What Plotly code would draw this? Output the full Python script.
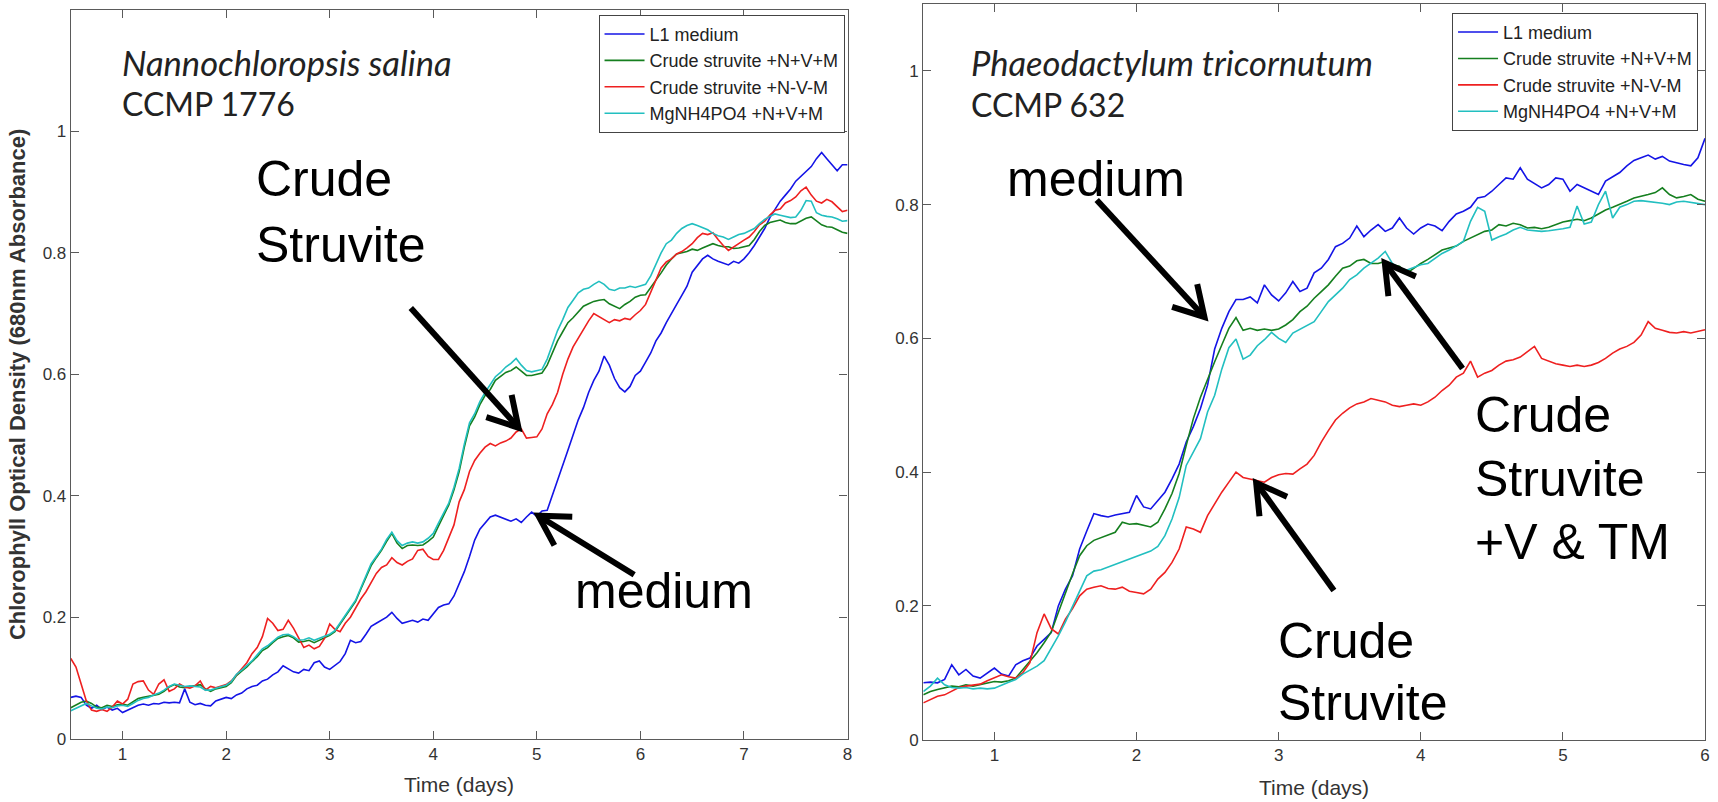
import plotly.graph_objects as go
import math

W, H = 1718, 802

# ---------------- data ----------------
T_LEFT = [round(0.5 + 0.05 * i, 2) for i in range(151)]   # days 0.5 .. 8.0
T_RIGHT = [round(0.5 + 0.05 * i, 2) for i in range(111)]  # days 0.5 .. 6.0

SERIES_NAMES = ["L1 medium", "Crude struvite +N+V+M", "Crude struvite +N-V-M", "MgNH4PO4 +N+V+M"]
SERIES_COLORS = ["#1414e6", "#157f1f", "#ee2020", "#22bfc0"]

NS_L1 = [0.068,0.070,0.068,0.055,0.050,0.055,0.048,0.052,0.047,0.050,
         0.043,0.047,0.052,0.055,0.057,0.055,0.058,0.057,0.060,0.059,
         0.060,0.059,0.082,0.060,0.056,0.058,0.055,0.054,0.062,0.065,
         0.068,0.066,0.072,0.075,0.082,0.086,0.088,0.095,0.098,0.105,
         0.110,0.120,0.115,0.110,0.108,0.114,0.112,0.125,0.128,0.118,
         0.114,0.120,0.127,0.140,0.162,0.158,0.160,0.172,0.185,0.190,
         0.195,0.200,0.208,0.198,0.190,0.192,0.195,0.192,0.197,0.195,
         0.205,0.216,0.220,0.222,0.235,0.255,0.275,0.300,0.327,0.345,
         0.355,0.365,0.368,0.365,0.362,0.358,0.362,0.356,0.365,0.373,
         0.366,0.375,0.376,0.400,0.425,0.450,0.475,0.500,0.525,0.545,
         0.570,0.590,0.605,0.630,0.615,0.593,0.578,0.571,0.580,0.598,
         0.605,0.620,0.635,0.655,0.668,0.685,0.701,0.715,0.730,0.745,
         0.768,0.780,0.790,0.796,0.790,0.786,0.783,0.780,0.786,0.783,
         0.790,0.800,0.812,0.825,0.840,0.858,0.872,0.885,0.895,0.905,
         0.918,0.926,0.935,0.942,0.955,0.965,0.955,0.945,0.935,0.945,
         0.945]
NS_CS_NVM = [0.051,0.055,0.060,0.062,0.058,0.052,0.051,0.055,0.053,0.056,
             0.057,0.055,0.060,0.066,0.068,0.070,0.071,0.073,0.078,0.085,
             0.089,0.085,0.084,0.086,0.088,0.089,0.082,0.078,0.082,0.084,
             0.086,0.092,0.104,0.111,0.118,0.127,0.135,0.145,0.150,0.158,
             0.165,0.168,0.170,0.166,0.159,0.160,0.162,0.158,0.162,0.166,
             0.170,0.176,0.188,0.200,0.212,0.226,0.246,0.265,0.285,0.298,
             0.310,0.325,0.338,0.322,0.313,0.318,0.319,0.318,0.319,0.325,
             0.332,0.350,0.368,0.385,0.410,0.440,0.480,0.515,0.530,0.550,
             0.565,0.575,0.590,0.596,0.603,0.606,0.612,0.605,0.598,0.598,
             0.600,0.602,0.615,0.635,0.655,0.670,0.685,0.693,0.702,0.712,
             0.716,0.720,0.722,0.723,0.716,0.712,0.708,0.715,0.720,0.727,
             0.730,0.731,0.742,0.755,0.767,0.780,0.790,0.798,0.800,0.802,
             0.806,0.804,0.808,0.812,0.815,0.812,0.810,0.810,0.807,0.808,
             0.810,0.812,0.822,0.835,0.845,0.850,0.852,0.854,0.850,0.848,
             0.848,0.852,0.857,0.859,0.852,0.846,0.843,0.842,0.838,0.834,
             0.832]
NS_CS_MINUS = [0.132,0.118,0.090,0.062,0.047,0.045,0.048,0.045,0.052,0.062,
               0.057,0.065,0.090,0.094,0.095,0.080,0.073,0.090,0.097,0.078,
               0.082,0.090,0.085,0.083,0.087,0.095,0.080,0.086,0.084,0.087,
               0.089,0.095,0.105,0.115,0.125,0.140,0.150,0.168,0.198,0.190,
               0.178,0.180,0.195,0.182,0.165,0.150,0.154,0.148,0.152,0.165,
               0.189,0.180,0.176,0.190,0.200,0.215,0.230,0.242,0.258,0.272,
               0.282,0.286,0.298,0.290,0.286,0.292,0.296,0.310,0.312,0.300,
               0.295,0.295,0.310,0.330,0.352,0.390,0.410,0.440,0.458,0.470,
               0.480,0.486,0.482,0.487,0.490,0.495,0.505,0.510,0.495,0.496,
               0.497,0.510,0.535,0.550,0.570,0.600,0.625,0.645,0.660,0.675,
               0.688,0.700,0.695,0.690,0.685,0.690,0.688,0.692,0.690,0.698,
               0.705,0.715,0.735,0.755,0.775,0.785,0.790,0.798,0.802,0.808,
               0.815,0.825,0.832,0.830,0.833,0.822,0.812,0.804,0.810,0.815,
               0.821,0.826,0.835,0.846,0.852,0.862,0.870,0.872,0.882,0.886,
               0.892,0.902,0.908,0.895,0.885,0.882,0.888,0.884,0.876,0.868,
               0.870]
NS_MG = [0.046,0.050,0.055,0.058,0.054,0.050,0.049,0.052,0.051,0.054,
         0.055,0.053,0.058,0.063,0.066,0.068,0.072,0.075,0.080,0.086,
         0.090,0.088,0.086,0.087,0.086,0.085,0.080,0.080,0.083,0.085,
         0.088,0.094,0.106,0.113,0.120,0.128,0.138,0.148,0.153,0.160,
         0.167,0.171,0.172,0.168,0.162,0.163,0.166,0.162,0.165,0.168,
         0.172,0.178,0.190,0.202,0.214,0.228,0.248,0.268,0.288,0.300,
         0.312,0.328,0.340,0.326,0.318,0.322,0.324,0.322,0.324,0.330,
         0.338,0.355,0.372,0.388,0.414,0.445,0.485,0.520,0.535,0.555,
         0.570,0.582,0.596,0.603,0.612,0.618,0.626,0.615,0.606,0.604,
         0.606,0.608,0.625,0.648,0.672,0.690,0.710,0.722,0.734,0.740,
         0.742,0.748,0.753,0.748,0.740,0.738,0.742,0.742,0.745,0.743,
         0.745,0.748,0.762,0.782,0.800,0.815,0.821,0.832,0.840,0.845,
         0.848,0.845,0.842,0.838,0.832,0.828,0.826,0.822,0.826,0.830,
         0.832,0.836,0.840,0.848,0.855,0.860,0.864,0.862,0.860,0.858,
         0.859,0.870,0.886,0.885,0.866,0.862,0.860,0.859,0.856,0.852,
         0.853]

PT_L1 = [0.085,0.086,0.085,0.090,0.112,0.097,0.105,0.095,0.092,0.100,
         0.107,0.098,0.095,0.112,0.118,0.122,0.140,0.150,0.160,0.200,
         0.225,0.245,0.285,0.312,0.338,0.335,0.333,0.336,0.338,0.340,
         0.365,0.348,0.345,0.358,0.370,0.390,0.412,0.445,0.468,0.495,
         0.530,0.584,0.615,0.640,0.658,0.658,0.662,0.653,0.680,0.665,
         0.656,0.668,0.685,0.670,0.675,0.698,0.705,0.718,0.737,0.742,
         0.750,0.768,0.752,0.762,0.770,0.760,0.765,0.780,0.765,0.756,
         0.765,0.771,0.768,0.761,0.775,0.786,0.790,0.796,0.810,0.812,
         0.820,0.830,0.840,0.838,0.855,0.838,0.832,0.825,0.830,0.840,
         0.838,0.820,0.830,0.825,0.820,0.815,0.835,0.842,0.848,0.858,
         0.866,0.870,0.874,0.868,0.872,0.865,0.862,0.860,0.858,0.870,
         0.899]
PT_CS_NVM = [0.067,0.072,0.075,0.077,0.080,0.079,0.082,0.080,0.082,0.085,
             0.087,0.086,0.088,0.092,0.105,0.117,0.130,0.145,0.161,0.190,
             0.220,0.248,0.275,0.290,0.298,0.302,0.306,0.310,0.325,0.322,
             0.323,0.320,0.318,0.325,0.345,0.368,0.398,0.440,0.480,0.512,
             0.540,0.565,0.590,0.615,0.631,0.612,0.615,0.612,0.614,0.612,
             0.614,0.620,0.628,0.640,0.648,0.660,0.670,0.680,0.693,0.705,
             0.708,0.716,0.718,0.712,0.712,0.715,0.710,0.708,0.697,0.705,
             0.712,0.718,0.725,0.732,0.735,0.738,0.745,0.750,0.755,0.760,
             0.762,0.770,0.768,0.772,0.770,0.765,0.766,0.764,0.766,0.770,
             0.774,0.776,0.778,0.776,0.780,0.786,0.792,0.796,0.800,0.805,
             0.810,0.812,0.815,0.818,0.825,0.815,0.810,0.812,0.815,0.808,
             0.805]
PT_CS_MINUS = [0.055,0.060,0.065,0.067,0.072,0.078,0.080,0.082,0.083,0.088,
               0.092,0.097,0.094,0.092,0.100,0.115,0.160,0.188,0.166,0.158,
               0.180,0.196,0.215,0.225,0.228,0.230,0.226,0.225,0.228,0.222,
               0.220,0.218,0.225,0.240,0.250,0.265,0.285,0.318,0.315,0.310,
               0.335,0.353,0.370,0.385,0.400,0.392,0.390,0.387,0.385,0.392,
               0.396,0.398,0.397,0.405,0.412,0.425,0.445,0.462,0.478,0.488,
               0.496,0.502,0.505,0.510,0.508,0.505,0.500,0.498,0.500,0.502,
               0.500,0.505,0.512,0.522,0.530,0.542,0.548,0.566,0.542,0.548,
               0.552,0.560,0.566,0.568,0.572,0.580,0.588,0.570,0.566,0.562,
               0.560,0.558,0.560,0.558,0.560,0.564,0.570,0.578,0.584,0.588,
               0.594,0.605,0.625,0.615,0.612,0.609,0.608,0.610,0.608,0.610,
               0.613]
PT_MG = [0.072,0.080,0.092,0.082,0.078,0.077,0.078,0.076,0.077,0.076,
         0.077,0.082,0.086,0.090,0.098,0.104,0.110,0.118,0.136,0.155,
         0.176,0.200,0.222,0.245,0.252,0.254,0.258,0.262,0.266,0.270,
         0.274,0.278,0.282,0.289,0.305,0.330,0.362,0.410,0.430,0.450,
         0.490,0.515,0.554,0.586,0.599,0.569,0.575,0.589,0.598,0.609,
         0.600,0.594,0.608,0.614,0.620,0.625,0.640,0.655,0.665,0.675,
         0.688,0.695,0.705,0.712,0.720,0.730,0.712,0.705,0.702,0.706,
         0.710,0.712,0.720,0.727,0.732,0.738,0.745,0.775,0.796,0.790,
         0.747,0.752,0.756,0.762,0.766,0.762,0.761,0.760,0.761,0.762,
         0.764,0.766,0.798,0.771,0.774,0.800,0.820,0.780,0.796,0.800,
         0.805,0.806,0.805,0.803,0.802,0.800,0.804,0.805,0.803,0.801,
         0.800]

X_TICKS_LEFT = [1, 2, 3, 4, 5, 6, 7, 8]
X_TICKS_RIGHT = [1, 2, 3, 4, 5, 6]
Y_TICKS = [0, 0.2, 0.4, 0.6, 0.8, 1]
Y_TICK_TEXT = ["0", "0.2", "0.4", "0.6", "0.8", "1"]

# ---------------- layout geometry (pixels) ----------------
L_AX = dict(x0=71, x1=850, y0=10, y1=748, xr=(0.5, 8.0), yr=(0.0, 1.2))
R_AX = dict(x0=926, x1=1710, y0=4, y1=749, xr=(0.5, 6.0), yr=(0.0, 1.1))


def dom_x(ax):
    return [ax["x0"] / W, ax["x1"] / W]


def dom_y(ax):
    return [1 - ax["y1"] / H, 1 - ax["y0"] / H]


def to_px(ax, t, v):
    px = ax["x0"] + (t - ax["xr"][0]) / (ax["xr"][1] - ax["xr"][0]) * (ax["x1"] - ax["x0"])
    py = ax["y1"] - (v - ax["yr"][0]) / (ax["yr"][1] - ax["yr"][0]) * (ax["y1"] - ax["y0"])
    return px, py


def pp(px, py):
    return px / W, 1 - py / H


fig = go.Figure()

left_sets = [NS_L1, NS_CS_NVM, NS_CS_MINUS, NS_MG]
right_sets = [PT_L1, PT_CS_NVM, PT_CS_MINUS, PT_MG]
for name, col, ys in zip(SERIES_NAMES, SERIES_COLORS, left_sets):
    fig.add_trace(go.Scatter(x=T_LEFT, y=ys, mode="lines", name=name,
                             line=dict(color=col, width=1.6),
                             xaxis="x", yaxis="y", legend="legend"))
for name, col, ys in zip(SERIES_NAMES, SERIES_COLORS, right_sets):
    fig.add_trace(go.Scatter(x=T_RIGHT, y=ys, mode="lines", name=name,
                             line=dict(color=col, width=1.6),
                             xaxis="x2", yaxis="y2", legend="legend2"))

AXCOL = "#5a5a5a"
TICKFONT = dict(family="Liberation Sans, Arial, sans-serif", size=17, color="#333333")


def xaxis(ax, ticks, anchor):
    return dict(domain=dom_x(ax), range=list(ax["xr"]), tickvals=ticks,
                ticks="inside", ticklen=8, tickcolor=AXCOL, showline=True,
                linecolor=AXCOL, linewidth=1.2, mirror="ticks", showgrid=False,
                zeroline=False, tickfont=TICKFONT, anchor=anchor, fixedrange=True)


def yaxis(ax, anchor):
    return dict(domain=dom_y(ax), range=list(ax["yr"]), tickvals=Y_TICKS,
                ticktext=Y_TICK_TEXT, ticks="inside", ticklen=8, tickcolor=AXCOL,
                showline=True, linecolor=AXCOL, linewidth=1.2, mirror="ticks",
                showgrid=False, zeroline=False, tickfont=TICKFONT, anchor=anchor,
                fixedrange=True)


LEGFONT = dict(family="Liberation Sans, Arial, sans-serif", size=18, color="#222222")

fig.update_layout(
    width=W, height=H, margin=dict(l=0, r=0, t=0, b=0),
    paper_bgcolor="white", plot_bgcolor="white",
    xaxis=xaxis(L_AX, X_TICKS_LEFT, "y"),
    yaxis=yaxis(L_AX, "x"),
    xaxis2=xaxis(R_AX, X_TICKS_RIGHT, "y2"),
    yaxis2=yaxis(R_AX, "x2"),
    legend=dict(x=847 / W, y=1 - 15 / H, xanchor="right", yanchor="top",
                bordercolor="#444444", borderwidth=1, bgcolor="white",
                font=LEGFONT, itemwidth=40, tracegroupgap=0),
    legend2=dict(x=1703 / W, y=1 - 13 / H, xanchor="right", yanchor="top",
                 bordercolor="#444444", borderwidth=1, bgcolor="white",
                 font=LEGFONT, itemwidth=40, tracegroupgap=0),
    showlegend=True,
)

annotations = []


def text(px, py, s, size, family="Liberation Sans, Arial, sans-serif", color="#000000", xanchor="left"):
    x, y = pp(px, py)
    annotations.append(dict(x=x, y=y, xref="paper", yref="paper", text=s, showarrow=False,
                            xanchor=xanchor, yanchor="middle",
                            font=dict(family=family, size=size, color=color)))


# axis titles
text((L_AX["x0"] + L_AX["x1"]) / 2, 794, "Time (days)", 21, color="#333333", xanchor="center")
text((R_AX["x0"] + R_AX["x1"]) / 2, 797, "Time (days)", 21, color="#333333", xanchor="center")
xa, ya = pp(17, (L_AX["y0"] + L_AX["y1"]) / 2 + 10)
annotations.append(dict(x=xa, y=ya, xref="paper", yref="paper",
                        text="<b>Chlorophyll Optical Density (680nm Absorbance)</b>",
                        showarrow=False, textangle=-90, xanchor="center", yanchor="middle",
                        font=dict(family="Liberation Sans, Arial, sans-serif", size=22, color="#333333")))

# species labels
SPFONT = "Lato, Carlito, sans-serif"
text(120, 63, "<i>Nannochloropsis salina</i>", 34.5, family=SPFONT, color="#222222")
text(120, 105, "CCMP 1776", 32, family=SPFONT, color="#222222")
text(972, 63, "<i>Phaeodactylum tricornutum</i>", 34.5, family=SPFONT, color="#222222")
text(972, 106, "CCMP 632", 32, family=SPFONT, color="#222222")

# callout labels
BIG = 50
text(255, 181, "Crude", BIG)
text(255, 248, "Struvite", BIG)
text(575, 598, "medium", BIG)
text(1008, 181, "medium", BIG)
text(1477, 420, "Crude", BIG)
text(1477, 485, "Struvite", BIG)
text(1477, 549, "+V &amp; TM", BIG)
text(1280, 649, "Crude", BIG)
text(1280, 712, "Struvite", BIG)

fig.update_layout(annotations=annotations)

# arrows (tail -> tip in data coordinates of each panel)
ARROWS = [
    (L_AX, (3.783, 0.709), (4.823, 0.512)),
    (L_AX, (5.94, 0.27), (5.015, 0.367)),
    (R_AX, (1.720, 0.807), (2.478, 0.632)),
    (R_AX, (4.294, 0.555), (3.747, 0.713)),
    (R_AX, (3.389, 0.223), (2.842, 0.384)),
]
shapes = []
HEAD_LEN, HEAD_ANG = 34, math.radians(30)
for ax, tail, tip in ARROWS:
    tx, ty = to_px(ax, *tail)
    hx, hy = to_px(ax, *tip)
    ang = math.atan2(ty - hy, tx - hx)
    a1 = (hx + HEAD_LEN * math.cos(ang + HEAD_ANG), hy + HEAD_LEN * math.sin(ang + HEAD_ANG))
    a2 = (hx + HEAD_LEN * math.cos(ang - HEAD_ANG), hy + HEAD_LEN * math.sin(ang - HEAD_ANG))
    p_t, p_h, p1, p2 = pp(tx, ty), pp(hx, hy), pp(*a1), pp(*a2)
    shapes.append(dict(type="line", xref="paper", yref="paper", x0=p_t[0], y0=p_t[1],
                       x1=p_h[0], y1=p_h[1], line=dict(color="black", width=6)))
    shapes.append(dict(type="path", xref="paper", yref="paper",
                       path=f"M {p1[0]} {p1[1]} L {p_h[0]} {p_h[1]} L {p2[0]} {p2[1]}",
                       line=dict(color="black", width=6)))
fig.update_layout(shapes=shapes)

fig.write_html("out.html")
